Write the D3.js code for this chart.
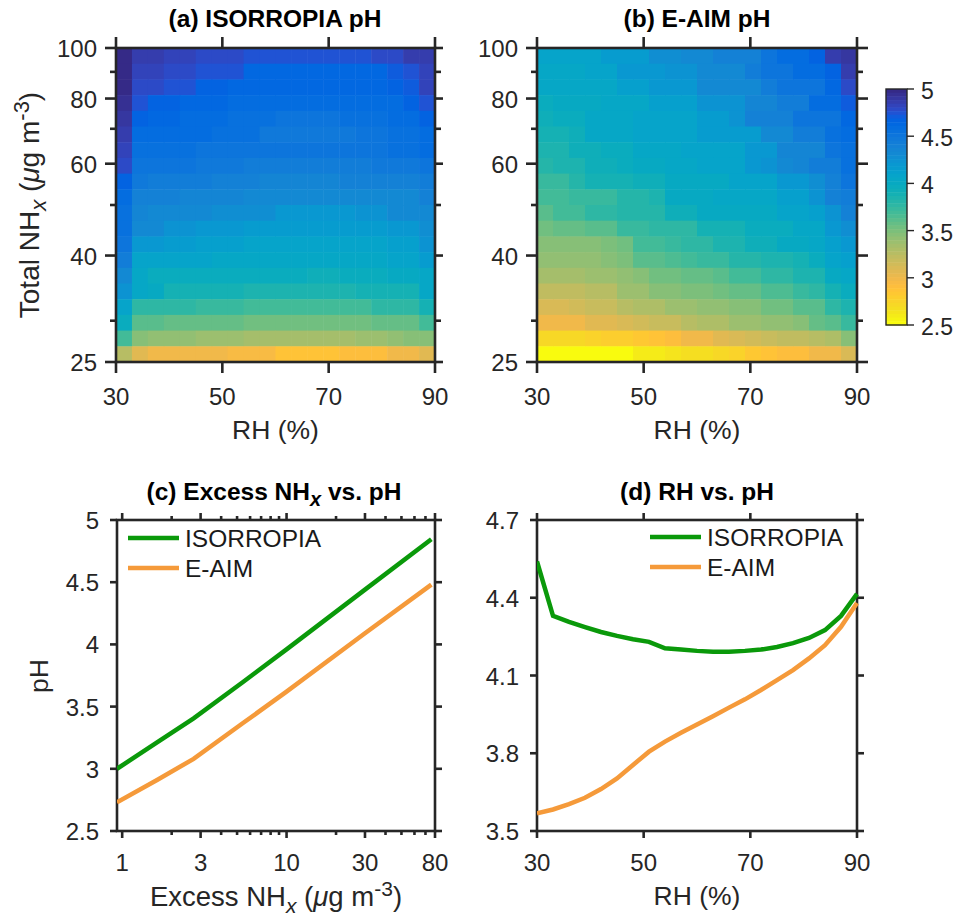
<!DOCTYPE html>
<html><head><meta charset="utf-8">
<script src="https://cdn.jsdelivr.net/npm/d3@7/dist/d3.min.js"></script>
<style>html,body{margin:0;padding:0;background:#fff}svg{display:block}text{font-family:"Liberation Sans",Arial,sans-serif}</style>
</head><body><svg id="c" width="960" height="921"></svg>
<script>
const parula=[[.2081,.1663,.5292],[.2116,.1898,.5777],[.2123,.2138,.627],[.2081,.2386,.6771],[.1959,.2645,.7279],[.1707,.2919,.7792],[.1253,.3242,.8303],[.0591,.3598,.8683],[.0117,.3875,.882],[.006,.4086,.8828],[.0165,.4266,.8786],[.0329,.443,.872],[.0498,.4586,.8641],[.0629,.4737,.8554],[.0723,.4887,.8467],[.0779,.504,.8384],[.0793,.52,.8312],[.0749,.5375,.8263],[.0641,.557,.824],[.0488,.5772,.8228],[.0343,.5966,.8199],[.0265,.6137,.8135],[.0239,.6287,.8038],[.0231,.6418,.7913],[.0228,.6535,.7768],[.0267,.6642,.7607],[.0384,.6743,.7436],[.059,.6838,.7254],[.0843,.6928,.7062],[.1133,.7015,.6859],[.1453,.7098,.6646],[.1801,.7177,.6424],[.2178,.725,.6193],[.2586,.7317,.5954],[.3022,.7376,.5712],[.3482,.7424,.5473],[.3953,.7459,.5244],[.442,.7481,.5033],[.4871,.7491,.484],[.53,.7491,.4661],[.5709,.7485,.4494],[.6099,.7473,.4337],[.6473,.7456,.4188],[.6834,.7435,.4044],[.7184,.7411,.3905],[.7525,.7384,.3768],[.7858,.7356,.3633],[.8185,.7327,.3498],[.8507,.7299,.336],[.8824,.7274,.3217],[.9139,.7258,.3063],[.945,.7261,.2886],[.9739,.7314,.2666],[.9938,.7455,.2403],[.999,.7653,.2164],[.9955,.7861,.1967],[.988,.8066,.1794],[.9789,.8271,.1633],[.9697,.8481,.1475],[.9626,.8705,.1309],[.9589,.8949,.1132],[.9598,.9218,.0948],[.9661,.9514,.0755],[.9763,.9831,.0538]];
const rhCells=d3.range(20);
const nhCells=d3.range(20);
// pH per heat-map row, top row (100 ug/m3) first; columns run from RH 30 to RH 90
const isorropiaPH=[
[4.97,4.85,4.85,4.82,4.82,4.78,4.78,4.78,4.73,4.73,4.73,4.73,4.73,4.73,4.73,4.73,4.78,4.78,4.85,4.88],
[4.97,4.82,4.82,4.78,4.78,4.73,4.73,4.73,4.63,4.63,4.63,4.63,4.63,4.63,4.63,4.63,4.63,4.70,4.75,4.83],
[4.97,4.80,4.80,4.75,4.75,4.68,4.68,4.62,4.62,4.62,4.62,4.62,4.62,4.62,4.62,4.62,4.62,4.66,4.72,4.83],
[4.93,4.73,4.68,4.68,4.64,4.64,4.64,4.58,4.58,4.58,4.58,4.58,4.58,4.58,4.58,4.58,4.58,4.60,4.65,4.76],
[4.90,4.66,4.62,4.62,4.60,4.60,4.60,4.56,4.56,4.56,4.52,4.52,4.52,4.52,4.56,4.56,4.56,4.58,4.58,4.65],
[4.87,4.60,4.60,4.60,4.59,4.59,4.55,4.55,4.55,4.48,4.48,4.48,4.48,4.48,4.48,4.52,4.52,4.56,4.56,4.60],
[4.82,4.57,4.57,4.55,4.55,4.52,4.52,4.52,4.50,4.50,4.50,4.50,4.50,4.50,4.50,4.50,4.50,4.55,4.55,4.60],
[4.78,4.53,4.53,4.50,4.50,4.48,4.48,4.48,4.45,4.45,4.45,4.45,4.45,4.45,4.45,4.45,4.47,4.47,4.47,4.52],
[4.65,4.47,4.43,4.43,4.42,4.42,4.38,4.38,4.38,4.35,4.35,4.35,4.35,4.35,4.38,4.38,4.38,4.40,4.40,4.42],
[4.60,4.38,4.38,4.38,4.35,4.35,4.35,4.35,4.30,4.30,4.30,4.30,4.30,4.30,4.30,4.30,4.30,4.33,4.33,4.38],
[4.57,4.35,4.30,4.30,4.32,4.32,4.27,4.27,4.27,4.27,4.20,4.20,4.20,4.20,4.20,4.25,4.25,4.30,4.30,4.33],
[4.55,4.30,4.30,4.25,4.25,4.20,4.20,4.20,4.17,4.17,4.17,4.17,4.17,4.17,4.17,4.17,4.17,4.20,4.20,4.28],
[4.50,4.20,4.20,4.17,4.17,4.12,4.12,4.12,4.10,4.10,4.10,4.10,4.10,4.10,4.10,4.10,4.10,4.12,4.12,4.22],
[4.42,4.08,4.08,4.07,4.07,4.07,4.05,4.05,4.05,4.05,4.05,4.05,4.05,4.05,4.05,4.05,4.05,4.07,4.07,4.15],
[4.33,4.03,3.98,3.98,3.98,3.98,3.98,3.97,3.97,3.97,3.97,3.97,3.92,3.92,3.97,3.97,3.97,4.00,4.00,4.05],
[4.25,4.03,4.00,3.87,3.87,3.87,3.87,3.87,3.84,3.84,3.84,3.84,3.84,3.84,3.84,3.88,3.88,3.88,3.88,4.03],
[4.08,3.78,3.78,3.76,3.76,3.74,3.74,3.74,3.70,3.70,3.70,3.70,3.70,3.70,3.70,3.70,3.76,3.76,3.78,3.87],
[3.95,3.61,3.61,3.58,3.58,3.56,3.56,3.56,3.55,3.55,3.55,3.55,3.55,3.55,3.55,3.55,3.56,3.56,3.58,3.70],
[3.68,3.47,3.42,3.42,3.42,3.38,3.38,3.38,3.33,3.33,3.33,3.33,3.33,3.33,3.33,3.37,3.37,3.42,3.45,3.47],
[3.28,3.07,3.00,3.00,3.00,2.97,2.97,2.93,2.93,2.93,2.88,2.88,2.88,2.88,2.92,2.92,2.92,2.97,3.00,3.07]];
const eaimPH=[
[4.07,4.07,4.07,4.07,4.15,4.15,4.15,4.28,4.28,4.33,4.33,4.40,4.40,4.40,4.50,4.58,4.58,4.65,4.85,4.90],
[4.05,4.05,4.05,4.08,4.08,4.18,4.18,4.18,4.25,4.25,4.33,4.33,4.33,4.45,4.50,4.50,4.58,4.58,4.65,4.85],
[4.03,4.03,4.03,4.06,4.06,4.13,4.13,4.20,4.20,4.20,4.33,4.33,4.33,4.33,4.42,4.52,4.52,4.52,4.62,4.80],
[3.97,4.02,4.02,4.02,4.05,4.05,4.05,4.12,4.12,4.12,4.25,4.25,4.25,4.35,4.35,4.45,4.45,4.58,4.58,4.72],
[3.92,3.97,3.97,4.03,4.03,4.03,4.08,4.08,4.08,4.08,4.15,4.15,4.25,4.38,4.38,4.38,4.52,4.52,4.52,4.62],
[3.88,3.88,3.92,4.03,4.03,4.03,4.08,4.08,4.08,4.08,4.15,4.15,4.15,4.15,4.30,4.30,4.42,4.42,4.55,4.60],
[3.85,3.85,3.92,3.92,3.96,3.96,4.03,4.03,4.03,4.08,4.08,4.08,4.08,4.18,4.18,4.35,4.35,4.35,4.52,4.57],
[3.80,3.83,3.83,3.92,3.92,3.96,4.00,4.00,4.05,4.05,4.08,4.08,4.10,4.20,4.25,4.32,4.35,4.42,4.45,4.55],
[3.72,3.72,3.80,3.88,3.88,3.88,3.93,3.93,4.02,4.02,4.02,4.02,4.08,4.08,4.08,4.20,4.20,4.28,4.38,4.50],
[3.68,3.68,3.72,3.72,3.72,3.82,3.82,3.85,4.00,4.00,4.00,4.05,4.05,4.05,4.05,4.12,4.12,4.22,4.38,4.42],
[3.60,3.68,3.68,3.75,3.75,3.82,3.82,3.82,3.92,3.92,4.00,4.00,4.00,4.00,4.00,4.08,4.08,4.12,4.25,4.38],
[3.52,3.56,3.56,3.62,3.62,3.72,3.72,3.78,3.78,3.78,3.88,3.88,3.88,3.98,3.98,3.98,4.05,4.05,4.18,4.28],
[3.45,3.45,3.47,3.47,3.50,3.55,3.68,3.68,3.72,3.78,3.78,3.85,3.85,3.93,3.93,4.00,4.00,4.05,4.12,4.20],
[3.41,3.41,3.43,3.43,3.47,3.50,3.60,3.60,3.66,3.68,3.72,3.72,3.80,3.80,3.86,3.86,3.90,3.95,4.08,4.12],
[3.33,3.33,3.35,3.38,3.38,3.42,3.45,3.53,3.53,3.58,3.58,3.62,3.70,3.70,3.77,3.77,3.83,3.86,4.00,4.05],
[3.21,3.21,3.23,3.26,3.26,3.36,3.38,3.45,3.47,3.50,3.50,3.54,3.58,3.58,3.65,3.65,3.72,3.75,3.88,3.95],
[3.10,3.10,3.13,3.17,3.17,3.28,3.32,3.32,3.38,3.38,3.43,3.43,3.47,3.47,3.54,3.54,3.60,3.63,3.77,3.83],
[2.97,3.00,3.00,3.05,3.07,3.12,3.15,3.20,3.20,3.26,3.30,3.30,3.38,3.38,3.43,3.43,3.47,3.58,3.62,3.72],
[2.72,2.72,2.72,2.74,2.78,2.80,2.83,2.87,2.90,2.97,3.00,3.06,3.12,3.14,3.18,3.22,3.24,3.28,3.32,3.46],
[2.50,2.50,2.50,2.50,2.50,2.50,2.60,2.60,2.65,2.66,2.68,2.72,2.76,2.82,2.88,2.90,2.90,2.98,3.00,3.10]];
const excessX=[0.93,1.63,2.72,5.46,10,30,76];
const excessIso=[3.0,3.212,3.405,3.70,3.96,4.44,4.845];
const excessEaim=[2.73,2.91,3.08,3.37,3.62,4.09,4.48];
const rhX=d3.range(30,91,3);
const rhIso=[4.54,4.33,4.307,4.287,4.268,4.253,4.24,4.23,4.205,4.2,4.195,4.192,4.192,4.195,4.2,4.21,4.225,4.245,4.275,4.33,4.415];
const rhEaim=[3.568,3.583,3.604,3.628,3.662,3.703,3.755,3.806,3.845,3.879,3.911,3.943,3.976,4.008,4.044,4.082,4.121,4.166,4.217,4.288,4.38];
const rhTicks=[30,50,70,90];
const nhMajor=[25,40,60,80,100];
const nhMinor=[30,50,70,90];
const cbarTicks=[2.5,3,3.5,4,4.5,5];
const excessMajor=[1,3,10,30,80];
const excessMinor=[2,4,5,6,7,8,9,20,40,50,60,70];
const phC=[2.5,3,3.5,4,4.5,5];
const phD=[3.5,3.8,4.1,4.4,4.7];
const seriesNames=["ISORROPIA","E-AIM"];

const INK="#262626",GREEN="#0a990a",ORANGE="#f59a3a";
const svg=d3.select("#c");
const hexes=parula.map(c=>d3.rgb(c[0]*255,c[1]*255,c[2]*255).formatHex());
const colorScale=d3.scaleQuantize().domain([2.5,5]).range(hexes.slice().reverse());

function rich(sel,parts){
  parts.forEach(([t,o={}])=>{
    const s=sel.append("tspan").text(t);
    if(o.i)s.attr("font-style","italic");
    if(o.dy)s.attr("dy",o.dy);
    if(o.fs)s.attr("font-size",o.fs);
  });
}
function label(x,y,parts,opt={}){
  const t=svg.append("text").attr("x",x).attr("y",y).attr("text-anchor",opt.anchor||"middle")
    .attr("font-size",opt.size||24).attr("fill",opt.fill||INK).attr("font-weight",opt.bold?"bold":"normal");
  if(opt.rot)t.attr("transform",`rotate(${opt.rot} ${x} ${y})`);
  if(typeof parts==="string")t.text(parts); else rich(t,parts);
  return t;
}
function frame(box,xs,ys,xMaj,xMin,yMaj,yMin,L){
  const g=svg.append("g").attr("stroke",INK).attr("stroke-width",2.6).attr("fill","none");
  const tick=(x1,y1,x2,y2)=>g.append("line").attr("x1",x1).attr("y1",y1).attr("x2",x2).attr("y2",y2);
  g.append("rect").attr("x",box.l).attr("y",box.t).attr("width",box.r-box.l).attr("height",box.b-box.t);
  const one=(v,len)=>{tick(xs(v),box.b,xs(v),box.b+len);tick(xs(v),box.t,xs(v),box.t-len);};
  const oneY=(v,len,rlen)=>{tick(box.l,ys(v),box.l-len,ys(v));tick(box.r,ys(v),box.r+rlen,ys(v));};
  xMaj.forEach(v=>one(v,L.maj));xMin.forEach(v=>one(v,L.min));
  yMaj.forEach(v=>oneY(v,L.maj,L.rmaj??L.maj));yMin.forEach(v=>oneY(v,L.min,L.rmin??L.min));
}
function heat(box,rows,title,tx){
  const xb=d3.scaleBand().domain(rhCells).range([box.l,box.r]);
  const yb=d3.scaleBand().domain(nhCells).range([box.t,box.b]);
  const xs=d3.scaleLinear().domain([30,90]).range([box.l,box.r]);
  const ys=d3.scaleLog().domain([25,100]).range([box.b,box.t]);
  svg.append("g").selectAll("g").data(rows).join("g").selectAll("rect")
    .data((r,i)=>r.map((v,j)=>({v,i,j}))).join("rect")
    .attr("x",d=>xb(d.j)).attr("y",d=>yb(d.i)).attr("width",xb.bandwidth()+.5).attr("height",yb.bandwidth()+.5)
    .attr("fill",d=>colorScale(d.v));
  frame(box,xs,ys,rhTicks,[],nhMajor,nhMinor,box.L);
  rhTicks.forEach(v=>label(xs(v),box.b+43,String(v)));
  nhMajor.forEach(v=>label(box.l-19,ys(v)+9,String(v),{anchor:"end"}));
  label((box.l+box.r)/2,box.b+77,"RH (%)",{size:26.5});
  label(tx,27,title,{bold:true,size:24.5,fill:"#000"});
}
heat({l:116,r:435,t:48,b:362,L:{maj:11,min:6,rmaj:8,rmin:6}},isorropiaPH,"(a) ISORROPIA pH",275);
heat({l:537,r:857,t:48,b:362,L:{maj:11,min:6}},eaimPH,"(b) E-AIM pH",697);
label(39,205,[["Total NH"],["x",{i:1,dy:7,fs:22}],[" (",{dy:-7}],["μ",{i:1}],["g m"],["-3",{dy:-10,fs:22}],[")",{dy:10}]],{rot:-90,size:28});

// colour bar
const cb={l:886,r:907,t:89,b:325};
const cy=d3.scaleLinear().domain([2.5,5]).range([cb.b,cb.t]);
const cbBand=d3.scaleBand().domain(d3.range(parula.length)).range([cb.t,cb.b]);
svg.append("g").selectAll("rect").data(parula).join("rect")
  .attr("x",cb.l).attr("width",cb.r-cb.l).attr("y",(d,i)=>cbBand(i)).attr("height",cbBand.bandwidth()+.5)
  .attr("fill",(d,i)=>hexes[i]);
svg.append("rect").attr("x",cb.l).attr("y",cb.t).attr("width",cb.r-cb.l).attr("height",cb.b-cb.t)
  .attr("fill","none").attr("stroke",INK).attr("stroke-width",1.4);
cbarTicks.forEach(v=>{
  svg.append("line").attr("x1",cb.r).attr("x2",cb.r+7).attr("y1",cy(v)).attr("y2",cy(v)).attr("stroke",INK).attr("stroke-width",1.4);
  label(921,cy(v)+10,String(v),{anchor:"start",size:23});
});

function lines(box,xs,ys,xv,a,b,leg){
  const cl="clip"+box.l+box.t;
  svg.append("clipPath").attr("id",cl).append("rect").attr("x",box.l).attr("y",box.t).attr("width",box.r-box.l+2).attr("height",box.b-box.t);
  const ln=d3.line().x((d,i)=>xs(xv[i])).y(d=>ys(d));
  const g=svg.append("g").attr("clip-path",`url(#${cl})`);
  g.append("path").attr("d",ln(a)).attr("fill","none").attr("stroke",GREEN).attr("stroke-width",4.5);
  g.append("path").attr("d",ln(b)).attr("fill","none").attr("stroke",ORANGE).attr("stroke-width",4.5);
  [GREEN,ORANGE].forEach((c,i)=>{
    const y=leg.y+i*30;
    svg.append("line").attr("x1",leg.x).attr("x2",leg.x+51).attr("y1",y).attr("y2",y).attr("stroke",c).attr("stroke-width",4.5);
    label(leg.x+57,y+9,seriesNames[i],{anchor:"start",size:24.5,fill:"#1a1a1a"});
  });
}
// panel c
const bc={l:117,r:435,t:520,b:831};
const xc=d3.scaleLog().domain([0.93,80]).range([bc.l,bc.r]);
const yc=d3.scaleLinear().domain([2.5,5]).range([bc.b,bc.t]);
frame(bc,xc,yc,excessMajor,excessMinor,phC,[],{maj:7,min:4});
lines(bc,xc,yc,excessX,excessIso,excessEaim,{x:128,y:538});
excessMajor.forEach(v=>label(xc(v),bc.b+40,String(v)));
phC.forEach(v=>label(bc.l-18,yc(v)+9,String(v),{anchor:"end"}));
label(48,676,"pH",{rot:-90,size:26.5});
label(276,906,[["Excess NH"],["x",{i:1,dy:7,fs:21}],[" (",{dy:-7}],["μ",{i:1}],["g m"],["-3",{dy:-10,fs:21}],[")",{dy:10}]],{size:27.5});
label(274,500,[["(c) Excess NH"],["x",{i:1,dy:6,fs:20}],[" vs. pH",{dy:-6}]],{bold:true,size:24.5,fill:"#000"});
// panel d
const bd={l:537,r:857,t:520,b:831};
const xd=d3.scaleLinear().domain([30,90]).range([bd.l,bd.r]);
const yd=d3.scaleLinear().domain([3.5,4.7]).range([bd.b,bd.t]);
frame(bd,xd,yd,rhTicks,[],phD,[],{maj:7,min:4});
lines(bd,xd,yd,rhX,rhIso,rhEaim,{x:650,y:537});
rhTicks.forEach(v=>label(xd(v),bd.b+40,String(v)));
phD.forEach(v=>label(bd.l-18,yd(v)+9,v.toFixed(1),{anchor:"end"}));
label(697,905,"RH (%)",{size:26.5});
label(697,500,"(d) RH vs. pH",{bold:true,size:24.5,fill:"#000"});
</script></body></html>
